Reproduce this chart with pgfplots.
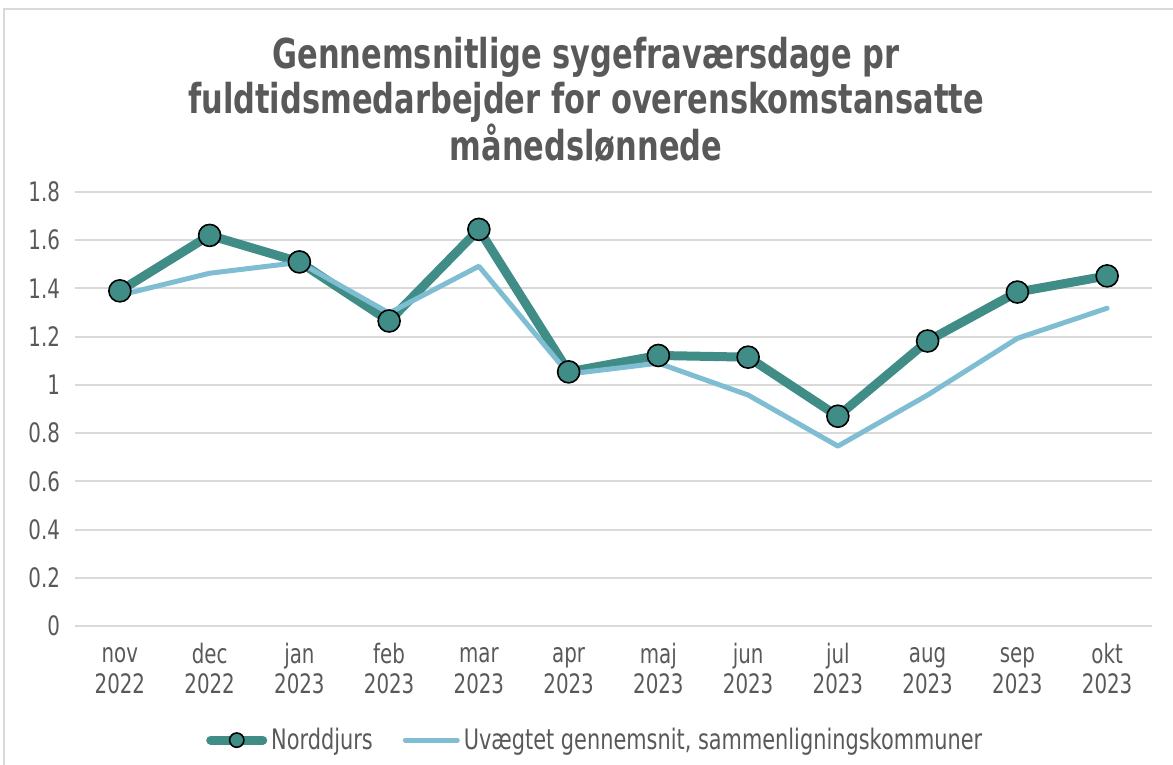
\documentclass[border=0pt]{standalone}
\usepackage{pgfplots}
\pgfplotsset{compat=1.18}
\usepackage{fontspec}
\setmainfont{DejaVu Sans}[FakeStretch=0.74]
\definecolor{teal1}{HTML}{408C87}
\definecolor{lblue}{HTML}{7FBED2}
\definecolor{txt}{HTML}{595959}
\definecolor{grd}{HTML}{D9D9D9}
\begin{document}
\begin{tikzpicture}
\useasboundingbox (0,0) rectangle (586.5pt,382.5pt);
\draw[grd, line width=0.8pt] (2pt,0pt) -- (2pt,378pt) -- (586.5pt,378pt);
\node[anchor=north, align=center, inner sep=0pt, text=txt, font=\fontsize{20.6}{22.2}\selectfont\bfseries] at (293pt,364pt)
  {Gennemsnitlige sygefraværsdage pr\\fuldtidsmedarbejder for overenskomstansatte\\månedslønnede};
\begin{axis}[
  at={(37.5pt,69.5pt)}, anchor=south west,
  scale only axis, width=538.5pt, height=217pt,
  xmin=-0.5, xmax=11.5, ymin=0, ymax=1.8,
  xtick={0,...,11},
  xticklabels={\strut nov\\\strut 2022,\strut dec\\\strut 2022,\strut jan\\\strut 2023,\strut feb\\\strut 2023,\strut mar\\\strut 2023,\strut apr\\\strut 2023,\strut maj\\\strut 2023,\strut jun\\\strut 2023,\strut jul\\\strut 2023,\strut aug\\\strut 2023,\strut sep\\\strut 2023,\strut okt\\\strut 2023},
  ytick={0,0.2,0.4,0.6,0.8,1,1.2,1.4,1.6,1.8},
  yticklabels={0,0.2,0.4,0.6,0.8,1,1.2,1.4,1.6,1.8},
  major tick length=0pt,
  axis line style={draw=none},
  ymajorgrids, grid style={grd, line width=1pt},
  tick label style={text=txt, font=\fontsize{13.4}{14.2}\selectfont},
  xticklabel style={align=center, anchor=north, yshift=-5pt},
  yticklabel style={anchor=east, xshift=-4pt},
  legend style={at={(0.484,-0.263)}, anchor=center, draw=none, fill=none,
    legend columns=2, font=\fontsize{14.1}{16}\selectfont, text=txt,
    /tikz/every even column/.append style={column sep=13pt},
    inner sep=0pt},
  legend cell align=left,
  legend image code/.code={\draw[#1, mark repeat=2, mark phase=2, every mark/.append style={scale=0.65}] plot coordinates {(0pt,0pt)(13pt,0pt)(26pt,0pt)};},
  clip=false,
]
\addplot[teal1, line width=4.5pt, line join=round, line cap=round,
  mark=*, mark size=5.5pt, mark options={fill=teal1, draw=black, line width=0.8pt}]
  coordinates {(0,1.39)(1,1.62)(2,1.51)(3,1.265)(4,1.645)(5,1.054)(6,1.122)(7,1.115)(8,0.87)(9,1.182)(10,1.385)(11,1.452)};
\addlegendentry{Norddjurs}
\addplot[lblue, line width=2.5pt, line join=round, line cap=round, mark=none]
  coordinates {(0,1.372)(1,1.463)(2,1.508)(3,1.298)(4,1.492)(5,1.045)(6,1.09)(7,0.958)(8,0.746)(9,0.958)(10,1.193)(11,1.318)};
\addlegendentry{Uvægtet gennemsnit, sammenligningskommuner}
\end{axis}
\end{tikzpicture}
\end{document}
